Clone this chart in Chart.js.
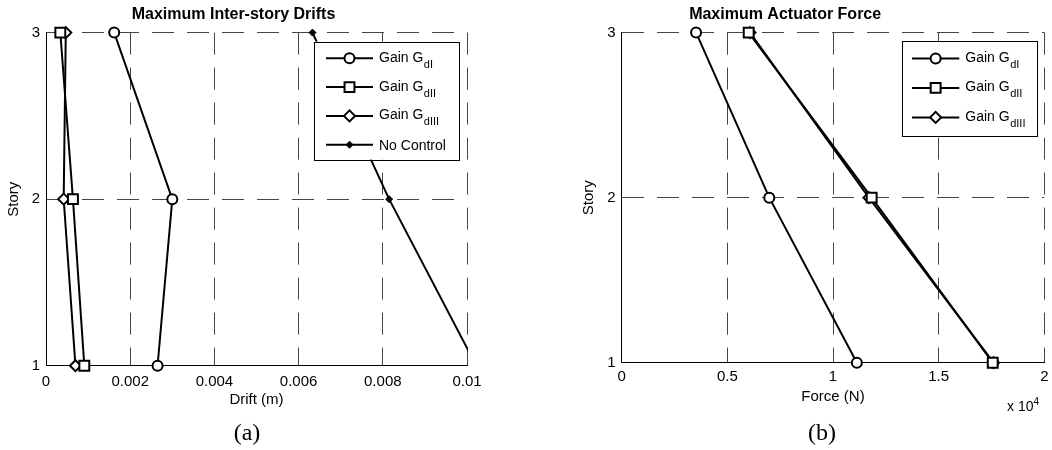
<!DOCTYPE html>
<html>
<head>
<meta charset="utf-8">
<script src="https://cdn.jsdelivr.net/npm/chart.js@4.4.1/dist/chart.umd.min.js"></script>
<style>
html, body { margin: 0; padding: 0; background: #fff; overflow: hidden; width: 1052px; height: 450px; }
body { position: relative; }
canvas { position: absolute; top: 0; }
#chartA { left: 0; }
#chartB { left: 526px; }
.tag { position: absolute; top: 419px; font-family: "Liberation Serif", "Times New Roman", serif; font-size: 24px; line-height: 26px; transform: translateX(-50%); }
#mult { position: absolute; left: 1007px; top: 398px; font: 14px "Liberation Sans", Arial, sans-serif; line-height: 16px; }
#mult sup { font-size: 10px; vertical-align: 6px; line-height: 0; }
</style>
</head>
<body>
<canvas id="chartA" width="513" height="450"></canvas>
<canvas id="chartB" width="614" height="450"></canvas>
<div class="tag" style="left:247px">(a)</div>
<div class="tag" style="left:822px">(b)</div>
<div id="mult">x 10<sup>4</sup></div>
<script>
// pisos
const stories = [1, 2, 3];

// derivas maximas (m), piso 1..3
const driftGdI = [0.00265, 0.00300, 0.00162];
const driftGdII = [0.00091, 0.00064, 0.00034];
const driftGdIII = [0.00070, 0.00042, 0.00047];
const driftNoControl = [0.01022, 0.00815, 0.00633];

// fuerza maxima actuador (N), piso 1..3
const forceGdI = [11130, 6985, 3520];
const forceGdII = [17560, 11830, 6010];
const forceGdIII = [17600, 11700, 6070];

// textos leyenda
const gainLabel = "Gain G";
const gainSubs = ["dI", "dII", "dIII"];
const noControlLabel = "No Control";

const storyTicks = [1, 2, 3];

Chart.defaults.color = "#000";
Chart.defaults.font.family = '"Liberation Sans", Arial, Helvetica, sans-serif';
Chart.defaults.font.size = 15;

// leyenda estilo matlab con subindices
const legendBox = {
    id: "legendBox",
    afterDatasetsDraw(chart, args, opts) {
        const { ctx, chartArea } = chart;
        const left = chartArea.right - opts.right - opts.width;
        const top = chartArea.top + opts.top;
        const drawPoint = Chart.helpers && Chart.helpers.drawPoint;

        ctx.save();
        ctx.fillStyle = "#fff";
        ctx.fillRect(left, top, opts.width, opts.height);
        ctx.strokeStyle = "#000";
        ctx.lineWidth = 1;
        ctx.strokeRect(Math.round(left) + 0.5, Math.round(top) + 0.5, opts.width, opts.height);

        chart.data.datasets.forEach((ds, i) => {
            const y = top + opts.firstRow + i * opts.rowGap;
            const x1 = left + opts.lineStart;
            const x2 = left + opts.lineEnd;

            ctx.beginPath();
            ctx.moveTo(x1, y);
            ctx.lineTo(x2, y);
            ctx.lineWidth = 2;
            ctx.strokeStyle = "#000";
            ctx.stroke();

            if (drawPoint) {
                ctx.fillStyle = ds.pointBackgroundColor;
                ctx.strokeStyle = "#000";
                ctx.lineWidth = ds.pointBorderWidth;
                drawPoint(ctx, {
                    pointStyle: ds.pointStyle,
                    radius: ds.pointRadius,
                    rotation: 0,
                    borderWidth: ds.pointBorderWidth
                }, (x1 + x2) / 2, y);
            }

            ctx.fillStyle = "#000";
            ctx.textAlign = "left";
            ctx.textBaseline = "alphabetic";
            ctx.font = '14px "Liberation Sans", Arial, sans-serif';
            const tx = left + opts.textX;
            const base = y + (ds.sub ? 3.5 : 5.5);
            ctx.fillText(ds.label, tx, base);
            if (ds.sub) {
                const w = ctx.measureText(ds.label).width;
                ctx.font = '11px "Liberation Sans", Arial, sans-serif';
                ctx.fillText(ds.sub, tx + w + 0.5, base + 6);
            }
        });
        ctx.restore();
    }
};

function serie(label, sub, xs, style, radius, fill, clip) {
    return {
        label: label,
        sub: sub,
        data: stories.map((s, i) => ({ x: xs[i], y: s })),
        borderColor: "#000",
        borderWidth: 2,
        pointStyle: style,
        pointRadius: radius,
        pointHoverRadius: radius,
        pointBorderWidth: style === "rectRot" && fill === "#000" ? 1 : 2,
        pointBackgroundColor: fill,
        pointBorderColor: "#000",
        tension: 0,
        clip: clip
    };
}

function opciones(conf) {
    return {
        responsive: false,
        animation: false,
        events: [],
        layout: { padding: { left: 0, right: conf.padRight, top: 0, bottom: 0 } },
        plugins: {
            legend: { display: false },
            tooltip: { enabled: false },
            title: {
                display: true,
                text: conf.title,
                font: { size: 16, weight: "bold" },
                padding: { top: 5.4, bottom: 8 }
            },
            legendBox: conf.legend
        },
        scales: {
            x: {
                type: "linear",
                min: conf.xMin,
                max: conf.xMax,
                afterFit: s => { s.height = conf.xHeight; },
                ticks: {
                    stepSize: conf.xStep,
                    padding: conf.xTickPad,
                    maxRotation: 0,
                    callback: conf.xFormat
                },
                grid: { color: "#444", lineWidth: 1, drawTicks: false },
                border: { display: true, color: "#000", width: 1, dash: [22, 13] },
                title: {
                    display: true,
                    text: conf.xTitle,
                    font: { size: 15 },
                    padding: { top: 0, bottom: conf.xTitlePad }
                }
            },
            y: {
                type: "linear",
                min: storyTicks[0],
                max: storyTicks[storyTicks.length - 1],
                afterFit: s => { s.width = conf.yWidth; },
                afterBuildTicks: s => { s.ticks = storyTicks.map(v => ({ value: v })); },
                ticks: { padding: conf.yTickPad },
                grid: { color: "#444", lineWidth: 1, drawTicks: false },
                border: { display: true, color: "#000", width: 1, dash: [22, 13] },
                title: {
                    display: true,
                    text: "Story",
                    font: { size: 15 },
                    padding: { top: conf.yTitlePad, bottom: 0 }
                }
            }
        }
    };
}

// grafico (a) derivas
new Chart(document.getElementById("chartA"), {
    type: "line",
    data: {
        datasets: [
            serie(gainLabel, gainSubs[0], driftGdI, "circle", 5, "#fff", 8),
            serie(gainLabel, gainSubs[1], driftGdII, "rect", 7, "#fff", 8),
            serie(gainLabel, gainSubs[2], driftGdIII, "rectRot", 5.5, "#fff", 8),
            serie(noControlLabel, "", driftNoControl, "rectRot", 3.5, "#000",
                { left: 8, top: 8, right: 1, bottom: 8 })
        ]
    },
    options: opciones({
        title: "Maximum Inter-story Drifts",
        padRight: 46,
        xMin: 0, xMax: 0.01, xStep: 0.002,
        xFormat: v => String(+v.toFixed(4)),
        xHeight: 84.3, xTickPad: 7.5, xTitle: "Drift (m)", xTitlePad: 41.5,
        yWidth: 46, yTickPad: 6, yTitlePad: 4.5,
        legend: { right: 8, top: 9, width: 145, height: 118, firstRow: 16.7, rowGap: 28.8, lineStart: 12, lineEnd: 59, textX: 65 }
    }),
    plugins: [legendBox]
});

// grafico (b) fuerza actuador
new Chart(document.getElementById("chartB"), {
    type: "line",
    data: {
        datasets: [
            serie(gainLabel, gainSubs[0], forceGdI, "circle", 5, "#fff", 8),
            serie(gainLabel, gainSubs[1], forceGdII, "rect", 7, "#fff", 8),
            serie(gainLabel, gainSubs[2], forceGdIII, "rectRot", 5.5, "#fff", 8)
        ]
    },
    options: opciones({
        title: "Maximum Actuator Force",
        padRight: 95.7,
        xMin: 0, xMax: 20000, xStep: 5000,
        xFormat: v => String(v / 10000),
        xHeight: 87.3, xTickPad: 5.5, xTitle: "Force (N)", xTitlePad: 44.3,
        yWidth: 95.7, yTickPad: 6, yTitlePad: 54.3,
        legend: { right: 7.6, top: 8.5, width: 135, height: 95, firstRow: 17.3, rowGap: 29.5, lineStart: 10.3, lineEnd: 57.6, textX: 63.6 }
    }),
    plugins: [legendBox]
});
</script>
</body>
</html>
